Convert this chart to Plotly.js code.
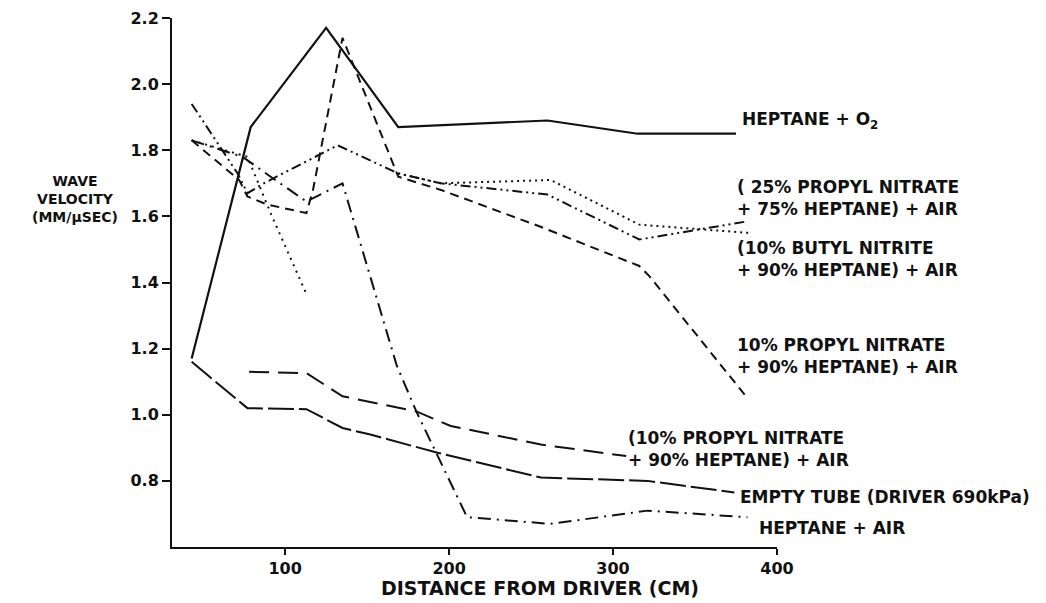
<!DOCTYPE html>
<html>
<head>
<meta charset="utf-8">
<script src="https://cdn.plot.ly/plotly-3.0.1.min.js"></script>
<style>html,body{margin:0;padding:0;background:#fff;}#chart{width:1046px;height:603px;}</style>
</head>
<body>
<div id="chart"></div>
<script>
// Distance from driver (cm) and wave velocity (mm/µsec)
const o2X = [43, 79, 125, 169, 260, 315, 375];
const o2Y = [1.17, 1.87, 2.17, 1.87, 1.89, 1.85, 1.85];

const pn25X = [169, 195, 262, 316, 383];
const pn25Y = [1.73, 1.70, 1.71, 1.575, 1.55];

const pn25EarlyX = [43, 77, 92, 113];
const pn25EarlyY = [1.83, 1.78, 1.60, 1.365];

const butylX = [43, 71, 77, 87, 132, 169, 195, 260, 316, 382];
const butylY = [1.94, 1.73, 1.67, 1.70, 1.815, 1.73, 1.70, 1.666, 1.53, 1.585];

const pn10X = [43, 72, 77, 89, 113, 117, 135, 169, 195, 255, 316, 322, 382];
const pn10Y = [1.83, 1.71, 1.66, 1.636, 1.61, 1.68, 2.14, 1.72, 1.68, 1.57, 1.45, 1.42, 1.05];

const pn10bX = [78, 113, 135, 180, 201, 256, 308];
const pn10bY = [1.13, 1.126, 1.056, 1.01, 0.966, 0.91, 0.875];

const emptyX = [43, 77, 113, 135, 152, 193, 256, 321, 374];
const emptyY = [1.16, 1.02, 1.017, 0.96, 0.94, 0.885, 0.81, 0.80, 0.765];

const airX = [43, 74, 94, 113, 135, 168, 180, 199, 211, 262, 321, 382];
const airY = [1.83, 1.78, 1.71, 1.645, 1.70, 1.15, 1.01, 0.815, 0.69, 0.67, 0.71, 0.69];

const xTicks = [100, 200, 300, 400];
const yTicks = [0.8, 1.0, 1.2, 1.4, 1.6, 1.8, 2.0, 2.2];

const labels = [
  "HEPTANE + O<sub>2</sub>",
  "( 25% PROPYL NITRATE<br>+ 75% HEPTANE) + AIR",
  "(10% BUTYL NITRITE<br>+ 90% HEPTANE) + AIR",
  "10% PROPYL NITRATE<br>+ 90% HEPTANE) + AIR",
  "(10% PROPYL NITRATE<br>+ 90% HEPTANE) + AIR",
  "EMPTY TUBE (DRIVER 690kPa)",
  "HEPTANE + AIR"
];
const xTitle = "DISTANCE FROM DRIVER (CM)";
const yTitle = "WAVE<br>VELOCITY<br>(MM/μSEC)";

const FONT = "DejaVu Sans, Arial, Helvetica, sans-serif";
function tr(x, y, dash, w) {
  return {x: x, y: y, mode: 'lines', type: 'scatter', showlegend: false,
          line: {color: '#111', width: w || 2, dash: dash}, hoverinfo: 'skip'};
}

const data = [
  tr(o2X, o2Y, 'solid', 2.2),
  tr(pn25X, pn25Y, '2px,4px', 2),
  tr(pn25EarlyX, pn25EarlyY, '2px,5px', 2),
  tr(butylX, butylY, '10px,4px,2px,4px,2px,4px', 2),
  tr(pn10X, pn10Y, '9px,6px', 2),
  tr(pn10bX, pn10bY, '20px,9px', 2),
  tr(emptyX, emptyY, '26px,5px', 2),
  tr(airX, airY, '13px,6px,2px,6px', 2)
];

const annPos = [
  [0.939, 0.807], [0.931, 0.660], [0.931, 0.544], [0.931, 0.361],
  [0.750, 0.185], [0.936, 0.0945], [0.967, 0.036]
];
const annotations = labels.map((t, i) => ({
  text: '<b>' + t + '</b>', xref: 'paper', yref: 'paper',
  x: annPos[i][0], y: annPos[i][1], xanchor: 'left', yanchor: 'middle',
  align: 'left', showarrow: false, font: {family: FONT, size: 17, color: '#111'}
}));
annotations.push({
  text: '<b>' + yTitle + '</b>', xref: 'paper', yref: 'paper',
  x: (75 - 172) / 605, y: (547 - 199) / 529, xanchor: 'center', yanchor: 'middle',
  align: 'center', showarrow: false, font: {family: FONT, size: 14, color: '#111'}
});
annotations.push({
  text: '<b>' + xTitle + '</b>', xref: 'paper', yref: 'paper',
  x: (540 - 172) / 605, y: (547 - 588) / 529, xanchor: 'center', yanchor: 'middle',
  align: 'center', showarrow: false, font: {family: FONT, size: 19, color: '#111'}
});

const layout = {
  width: 1046, height: 603,
  margin: {l: 172, r: 269, t: 18, b: 56},
  paper_bgcolor: '#fff', plot_bgcolor: '#fff',
  font: {family: FONT, color: '#111'},
  xaxis: {
    range: [31, 400], showgrid: false, zeroline: false, showline: true,
    linecolor: '#111', linewidth: 2, ticks: 'outside', ticklen: 6, tickwidth: 2,
    tickcolor: '#111', tickvals: xTicks, ticktext: xTicks.map(String),
    tickfont: {family: FONT, size: 16, color: '#111', weight: 'bold'}
  },
  yaxis: {
    range: [0.6, 2.2], showgrid: false, zeroline: false, showline: true,
    linecolor: '#111', linewidth: 2, ticks: 'outside', ticklen: 8, tickwidth: 2,
    tickcolor: '#111', tickvals: yTicks, ticktext: yTicks.map(v => v.toFixed(1)),
    tickfont: {family: FONT, size: 16, color: '#111', weight: 'bold'}
  },
  annotations: annotations
};

Plotly.newPlot('chart', data, layout, {displayModeBar: false, staticPlot: true});
</script>
</body>
</html>
